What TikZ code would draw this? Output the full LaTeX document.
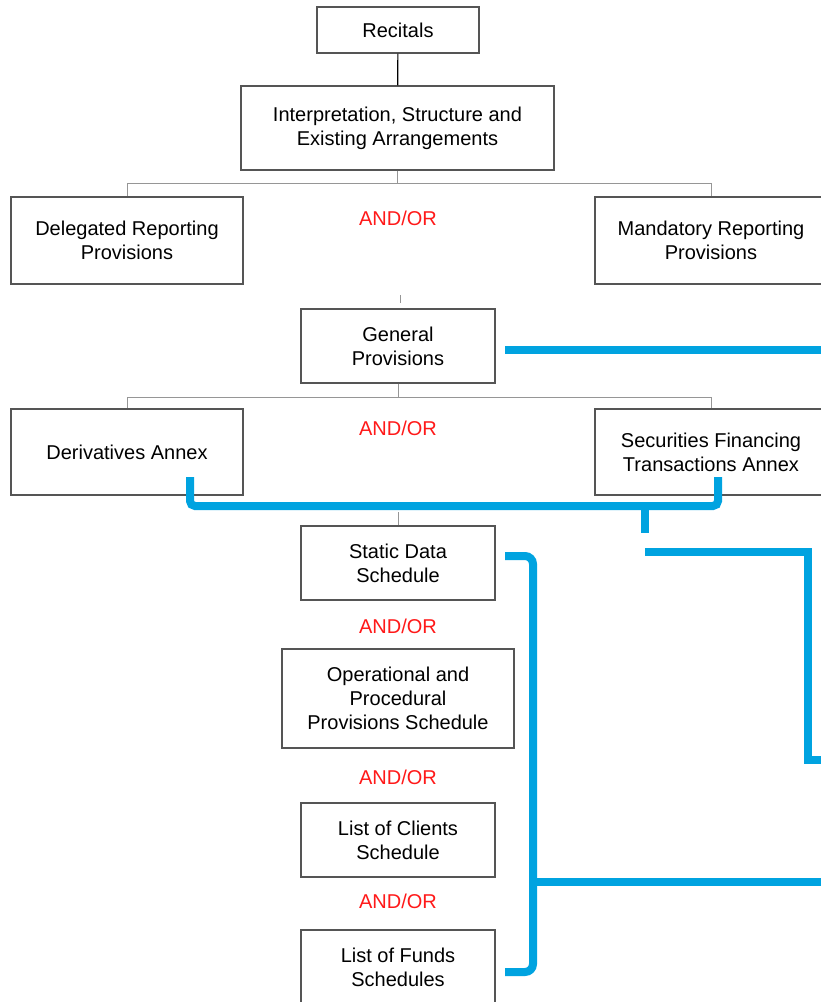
\documentclass[tikz,border=0pt]{standalone}
\usepackage{fontspec}
\setmainfont{Liberation Sans}
\usepackage{xcolor}
\usepackage{tikz}
\usetikzlibrary{calc}
\usetikzlibrary{positioning}

\definecolor{boxgray}{RGB}{85,85,85}
\definecolor{treegray}{RGB}{150,150,150}
\definecolor{andred}{RGB}{255,25,25}
\definecolor{linkblue}{RGB}{0,163,224}

\tikzset{
  part/.style={draw=boxgray, line width=1.3pt, align=center, inner sep=0pt,
    font=\fontsize{20}{24}\selectfont},
  andor/.style={text=andred, font=\fontsize{20}{24}\selectfont},
  treeline/.style={draw=treegray, line width=0.9pt},
  link/.style={draw=linkblue, line width=8pt}
}

\begin{document}
\begin{tikzpicture}[x=1pt, y=-1pt]
  \clip (0, 0) rectangle (821, 1002);
  \fill[white] (0, 0) rectangle (821, 1002);

  \node[part, minimum width=162, minimum height=46] (rec) at (398, 30) {Recitals};
  \node[part, minimum width=313, minimum height=84] (interp) at (397.5, 128)
    {Interpretation, Structure and\\Existing Arrangements};
  \node[part, minimum width=232, minimum height=87] (deleg) at (127, 240.5)
    {Delegated Reporting\\Provisions};
  \node[part, minimum width=232, minimum height=87] (mand) at (711, 240.5)
    {Mandatory Reporting\\Provisions};
  \node[part, minimum width=194, minimum height=74] (gen) at (398, 346)
    {General\\Provisions};
  \node[part, minimum width=232, minimum height=86] (deriv) at (127, 452)
    {Derivatives Annex};
  \node[part, minimum width=232, minimum height=86] (sec) at (711, 452)
    {Securities Financing\\Transactions Annex};
  \node[part, minimum width=194, minimum height=74] (static) at (398, 563)
    {Static Data\\Schedule};
  \node[part, minimum width=232, minimum height=99] (oper) at (398, 698.5)
    {Operational and\\Procedural\\Provisions Schedule};
  \node[part, minimum width=194, minimum height=74] (clients) at (398, 840)
    {List of Clients\\Schedule};
  \node[part, minimum width=194, minimum height=74] (funds) at (398, 967)
    {List of Funds\\Schedules};

  \foreach \n/\y in {1/218, 2/428, 3/626, 4/777, 5/901}
    \node[andor] (andor\n) at (398, \y) {AND/OR};

  % tree
  \draw[draw=black, line width=1.2pt] (rec) -- (interp);
  \draw[treeline] (interp.south) -- ++(0, 13) -| (deleg.north);
  \draw[treeline] (interp.south) -- ++(0, 13) -| (mand.north);
  \coordinate (genstub) at (400, 295);
  \draw[treeline] (genstub) -- ++(0, 8);
  \draw[treeline] (gen.south) -- ++(0, 14) -| (deriv.north);
  \draw[treeline] (gen.south) -- ++(0, 14) -| (sec.north);
  \draw[treeline] (static.north) -- ++(0, -13);

  % blue links
  \coordinate (genlink) at (505, 350);
  \draw[link] (genlink) -- (830, 350);

  \coordinate (derivlink) at (190, 477);
  \coordinate (seclink) at (718, 477);
  \coordinate (annexmid) at (645, 506);
  \draw[link, rounded corners=5pt] (derivlink) |- (annexmid) -| (seclink);
  \draw[link] (annexmid) -- ++(0, 27);

  \coordinate (annexout) at (645, 552);
  \draw[link] (annexout) -- (808, 552) -- (808, 760) -- (830, 760);

  \coordinate (statlink) at (505, 556);
  \coordinate (fundlink) at (505, 972);
  \coordinate (schedmid) at (533, 882);
  \draw[link, rounded corners=8pt] (statlink) -| (schedmid) |- (fundlink);
  \draw[link] (schedmid) -- (830, 882);
\end{tikzpicture}
\end{document}
